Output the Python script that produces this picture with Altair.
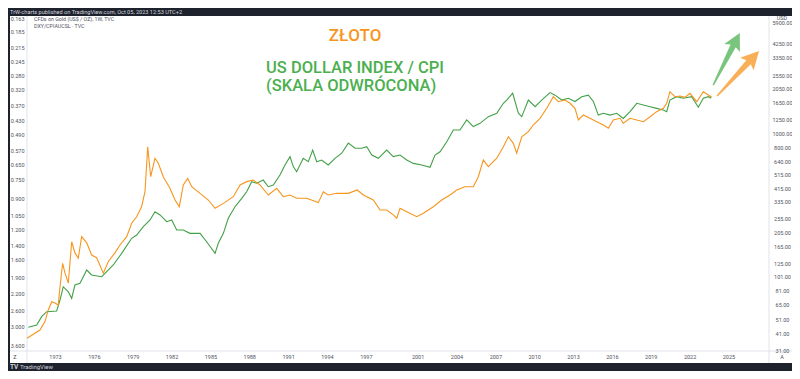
import altair as alt
import pandas as pd

# ---------------- data ----------------
gold_years = [1970.84, 1971.84, 1972.23, 1972.48, 1972.75, 1973.0, 1973.25, 1973.39, 1973.59, 1973.77,
              1974.03, 1974.29, 1974.54, 1974.80, 1975.06, 1975.45, 1975.83, 1976.22, 1976.73, 1977.12,
              1977.63, 1978.02, 1978.54, 1978.92, 1979.31, 1979.69, 1979.95, 1980.16, 1980.39, 1980.72,
              1980.98, 1981.36, 1981.88, 1982.27, 1982.60, 1982.91, 1983.25, 1983.56, 1984.20, 1984.84,
              1985.36, 1986.00, 1986.77, 1987.29, 1987.80, 1988.31, 1988.83, 1989.47, 1990.12, 1990.63,
              1991.15, 1991.66, 1992.44, 1993.33, 1993.72, 1994.10, 1994.75, 1995.65, 1996.34, 1996.81,
              1997.58, 1998.10, 1998.61, 1999.12, 1999.39, 1999.64, 2000.16, 2000.93, 2001.44, 2002.21,
              2002.86, 2003.50, 2004.02, 2004.66, 2005.30, 2005.69, 2006.07, 2006.46, 2007.11, 2007.62,
              2008.00, 2008.39, 2008.65, 2009.04, 2009.55, 2009.93, 2010.45, 2010.97, 2011.48, 2011.86,
              2012.38, 2012.77, 2013.15, 2013.41, 2013.80, 2014.31, 2014.83, 2015.34, 2015.73, 2016.11,
              2016.63, 2016.88, 2017.40, 2017.92, 2018.43, 2018.95, 2019.46, 2019.97, 2020.23, 2020.48,
              2020.87, 2021.26, 2021.64, 2022.03, 2022.55, 2023.06, 2023.45, 2023.71]
gold_usd = [37.8, 43.1, 49.3, 59.4, 67.8, 66.4, 64.3, 86.2, 125.4, 107.4,
            91.5, 177, 148, 136, 192, 174, 143, 137, 107, 129,
            148, 168, 192, 238, 264, 310, 394, 810, 501, 673,
            621, 501, 416, 345, 310, 439, 488, 427, 384, 345,
            302, 327, 364, 439, 463, 475, 439, 374, 416, 364,
            374, 355, 355, 331, 394, 374, 384, 384, 405, 374,
            345, 294, 294, 272, 258, 302, 286, 264, 279, 310,
            345, 374, 405, 427, 427, 501, 655, 588, 673, 810,
            950, 855, 729, 950, 1030, 1146, 1276, 1497, 1803, 1664,
            1710, 1622, 1497, 1242, 1345, 1276, 1208, 1146, 1087, 1242,
            1276, 1178, 1276, 1242, 1208, 1309, 1419, 1497, 1622, 1953,
            1803, 1823, 1785, 1903, 1664, 1953, 1852, 1785]

dxy_years = [1970.94, 1971.59, 1971.97, 1972.36, 1973.13, 1973.39, 1973.64, 1974.03, 1974.29, 1974.54,
             1974.93, 1975.45, 1975.83, 1976.61, 1976.99, 1977.50, 1978.15, 1978.92, 1979.31, 1979.82,
             1980.34, 1980.72, 1981.11, 1981.63, 1982.01, 1982.40, 1982.91, 1983.42, 1984.20, 1984.71,
             1985.36, 1985.61, 1986.00, 1986.38, 1986.90, 1987.42, 1987.80, 1988.19, 1988.58, 1989.08,
             1989.47, 1989.86, 1990.37, 1990.76, 1991.15, 1991.40, 1991.66, 1992.17, 1992.56, 1992.90,
             1993.21, 1993.59, 1994.10, 1994.62, 1995.14, 1995.65, 1996.17, 1996.68, 1997.07, 1997.46,
             1997.97, 1998.61, 1999.12, 1999.64, 2000.16, 2000.67, 2001.32, 2001.96, 2002.34, 2002.73,
             2003.25, 2003.76, 2004.27, 2004.79, 2005.30, 2005.82, 2006.46, 2007.11, 2007.62, 2007.88,
             2008.34, 2008.78, 2009.04, 2009.55, 2010.07, 2010.58, 2011.22, 2011.61, 2012.13, 2012.64,
             2013.15, 2013.67, 2014.18, 2014.57, 2014.95, 2015.34, 2015.86, 2016.37, 2016.88, 2017.40,
             2017.92, 2018.43, 2018.95, 2019.46, 2019.97, 2020.23, 2020.48, 2021.00, 2021.51, 2022.16,
             2022.67, 2023.06, 2023.45, 2023.66]
dxy_cpi = [3.036, 2.971, 2.746, 2.619, 2.601, 2.344, 2.067, 2.168, 2.307, 2.034,
           2.002, 1.765, 1.849, 1.881, 1.793, 1.683, 1.507, 1.307, 1.267, 1.171,
           1.099, 1.016, 1.048, 1.117, 1.099, 1.208, 1.208, 1.247, 1.247, 1.350,
           1.507, 1.370, 1.247, 1.082, 0.969, 0.895, 0.841, 0.765, 0.776, 0.753,
           0.802, 0.789, 0.718, 0.653, 0.603, 0.663, 0.696, 0.613, 0.633, 0.567,
           0.633, 0.623, 0.653, 0.613, 0.584, 0.531, 0.557, 0.557, 0.549, 0.594,
           0.613, 0.567, 0.603, 0.594, 0.623, 0.643, 0.653, 0.667, 0.594, 0.576,
           0.524, 0.469, 0.469, 0.426, 0.454, 0.440, 0.413, 0.400, 0.364, 0.353,
           0.331, 0.400, 0.413, 0.353, 0.376, 0.353, 0.329, 0.337, 0.353, 0.347,
           0.358, 0.342, 0.337, 0.358, 0.407, 0.400, 0.407, 0.400, 0.420, 0.394,
           0.364, 0.370, 0.376, 0.382, 0.388, 0.394, 0.353, 0.342, 0.347, 0.342,
           0.378, 0.347, 0.342, 0.347]

x_ticks = [1973, 1976, 1979, 1982, 1985, 1988, 1991, 1994, 1997, 2001,
           2004, 2007, 2010, 2013, 2016, 2019, 2022, 2025]
left_ticks = [0.163, 0.185, 0.215, 0.245, 0.28, 0.32, 0.37, 0.43, 0.49, 0.57, 0.65,
              0.75, 0.9, 1.05, 1.2, 1.4, 1.6, 1.9, 2.2, 2.6, 3.0, 3.6]
right_ticks = [31, 41, 51, 65, 81, 101, 125, 165, 205, 255, 335, 415, 515, 640, 800,
               1000, 1250, 1650, 2050, 2550, 3350, 4250, 5900]

arrow_years = [2024.85, 2025.74]
arrow_usd = [3296, 2613]
arrow_angles = [27, 43]
arrow_sizes = [3434, 3795]
arrow_colors = ["#6fc072", "#f9a849"]

# ---------------- styling ----------------
W, H = 742, 335
BG = "#1e222d"
ORANGE = "#f7951d"
GREEN = "#43a047"
LBL = "#50535e"
SEP = "#e0e3eb"
FONT = "Roboto"
ARROW = "M0,-1 L0.3,-0.42 L0.1,-0.5 L0.025,1 L-0.025,1 L-0.1,-0.5 L-0.3,-0.42 Z"

gold_df = pd.DataFrame({"year": gold_years, "usd": gold_usd})
dxy_df = pd.DataFrame({"year": dxy_years, "ratio": dxy_cpi})
arrow_df = pd.DataFrame({"year": arrow_years, "usd": arrow_usd, "angle": arrow_angles,
                         "size": arrow_sizes, "col": arrow_colors})

xscale = alt.Scale(domain=[1970.84, 2028.13], nice=False, zero=False)
x_axis = alt.Axis(values=x_ticks, format="d", labelFontSize=5.5, labelColor=LBL, labelFont=FONT,
                  tickSize=0, domain=False, grid=False, labelPadding=3, labelFlush=False,
                  labelOverlap=False, zindex=1, title=None)

one = alt.Data(values=[{}])


def txt(s, x, y, size, color, weight="normal", align="left", font=FONT):
    return alt.Chart(one).mark_text(text=s, fontSize=size, color=color, fontWeight=weight,
                                    align=align, baseline="middle", font=font).encode(
        x=alt.value(x), y=alt.value(y))


panel = alt.Chart(one).mark_rect(color="white").encode(
    x=alt.value(-17), x2=alt.value(765), y=alt.value(0), y2=alt.value(347))
sep_left = alt.Chart(one).mark_rule(color=SEP, strokeWidth=1).encode(
    x=alt.value(0), y=alt.value(0), y2=alt.value(347))
sep_right = alt.Chart(one).mark_rule(color=SEP, strokeWidth=1).encode(
    x=alt.value(742), y=alt.value(0), y2=alt.value(347))
sep_bottom = alt.Chart(one).mark_rule(color=SEP, strokeWidth=1).encode(
    x=alt.value(-17), x2=alt.value(765), y=alt.value(335))

dxy_line = alt.Chart(dxy_df).mark_line(color=GREEN, strokeWidth=1.1).encode(
    x=alt.X("year:Q", scale=xscale, axis=x_axis, title=None),
    y=alt.Y("ratio:Q", title=None,
            scale=alt.Scale(type="log", domain=[0.1593, 3.799], reverse=True, nice=False, zero=False),
            axis=alt.Axis(orient="left", values=left_ticks, format=".3f", labelFontSize=5.5,
                          labelColor=LBL, labelFont=FONT, tickSize=0, domain=False, grid=False,
                          labelPadding=3, labelOverlap=False, labelFlush=False, zindex=1)),
)

gold_line = alt.Chart(gold_df).mark_line(color=ORANGE, strokeWidth=1.1).encode(
    x=alt.X("year:Q", scale=xscale, axis=x_axis, title=None),
    y=alt.Y("usd:Q", title=None,
            scale=alt.Scale(type="log", domain=[30.8, 6557], nice=False, zero=False),
            axis=alt.Axis(orient="right", values=right_ticks, format=".2f", labelFontSize=5.5,
                          labelColor=LBL, labelFont=FONT, tickSize=0, domain=False, grid=False,
                          labelPadding=13, labelAlign="center", labelOverlap=False,
                          labelFlush=False, zindex=1)),
)
arrows = alt.Chart(arrow_df).mark_point(shape=ARROW, filled=True, strokeWidth=0, opacity=0.92).encode(
    x=alt.X("year:Q", scale=xscale, axis=x_axis, title=None),
    y=alt.Y("usd:Q", title=None),
    angle=alt.Angle("angle:Q", scale=None),
    size=alt.Size("size:Q", scale=None),
    color=alt.Color("col:N", scale=None),
)
gold_group = alt.layer(gold_line, arrows)

texts = [
    txt("TrW-charts published on TradingView.com, Oct 05, 2023 12:53 UTC+2", -17, -4, 5.6, "#d1d4dc"),
    txt("CFDs on Gold (US$ / OZ), 1W, TVC", 7, 3, 5.3, LBL),
    txt("DXY/CPIAUCSL \u00b7 TVC", 7, 10, 5.3, LBL),
    txt("USD", 755, 2, 5.5, LBL, align="center"),
    txt("Z", -12, 341, 5.5, LBL, align="center"),
    txt("A", 755, 341, 5.5, LBL, align="center"),
    txt("TV", -17, 351, 6.5, "#d1d4dc", weight="bold"),
    txt("TradingView", -7, 351, 6, "#d1d4dc"),
    txt("Z\u0141OTO", 328, 20, 17, ORANGE, weight=500, align="center"),
    txt("US DOLLAR INDEX / CPI", 239, 52, 16.5, "#4caf50", weight=500),
    txt("(SKALA ODWR\u00d3CONA)", 239, 70, 16.5, "#4caf50", weight=500),
]

chart = alt.layer(
    panel, sep_left, sep_right, sep_bottom, dxy_line, gold_group, *texts
).resolve_scale(y="independent").properties(
    width=W, height=H,
    padding={"left": 19, "top": 8, "right": 23, "bottom": 20},
    autosize=alt.AutoSizeParams(type="none"),
).configure(background=BG).configure_view(strokeOpacity=0)

chart.save("out.html", embed_options={"renderer": "svg", "actions": False})
